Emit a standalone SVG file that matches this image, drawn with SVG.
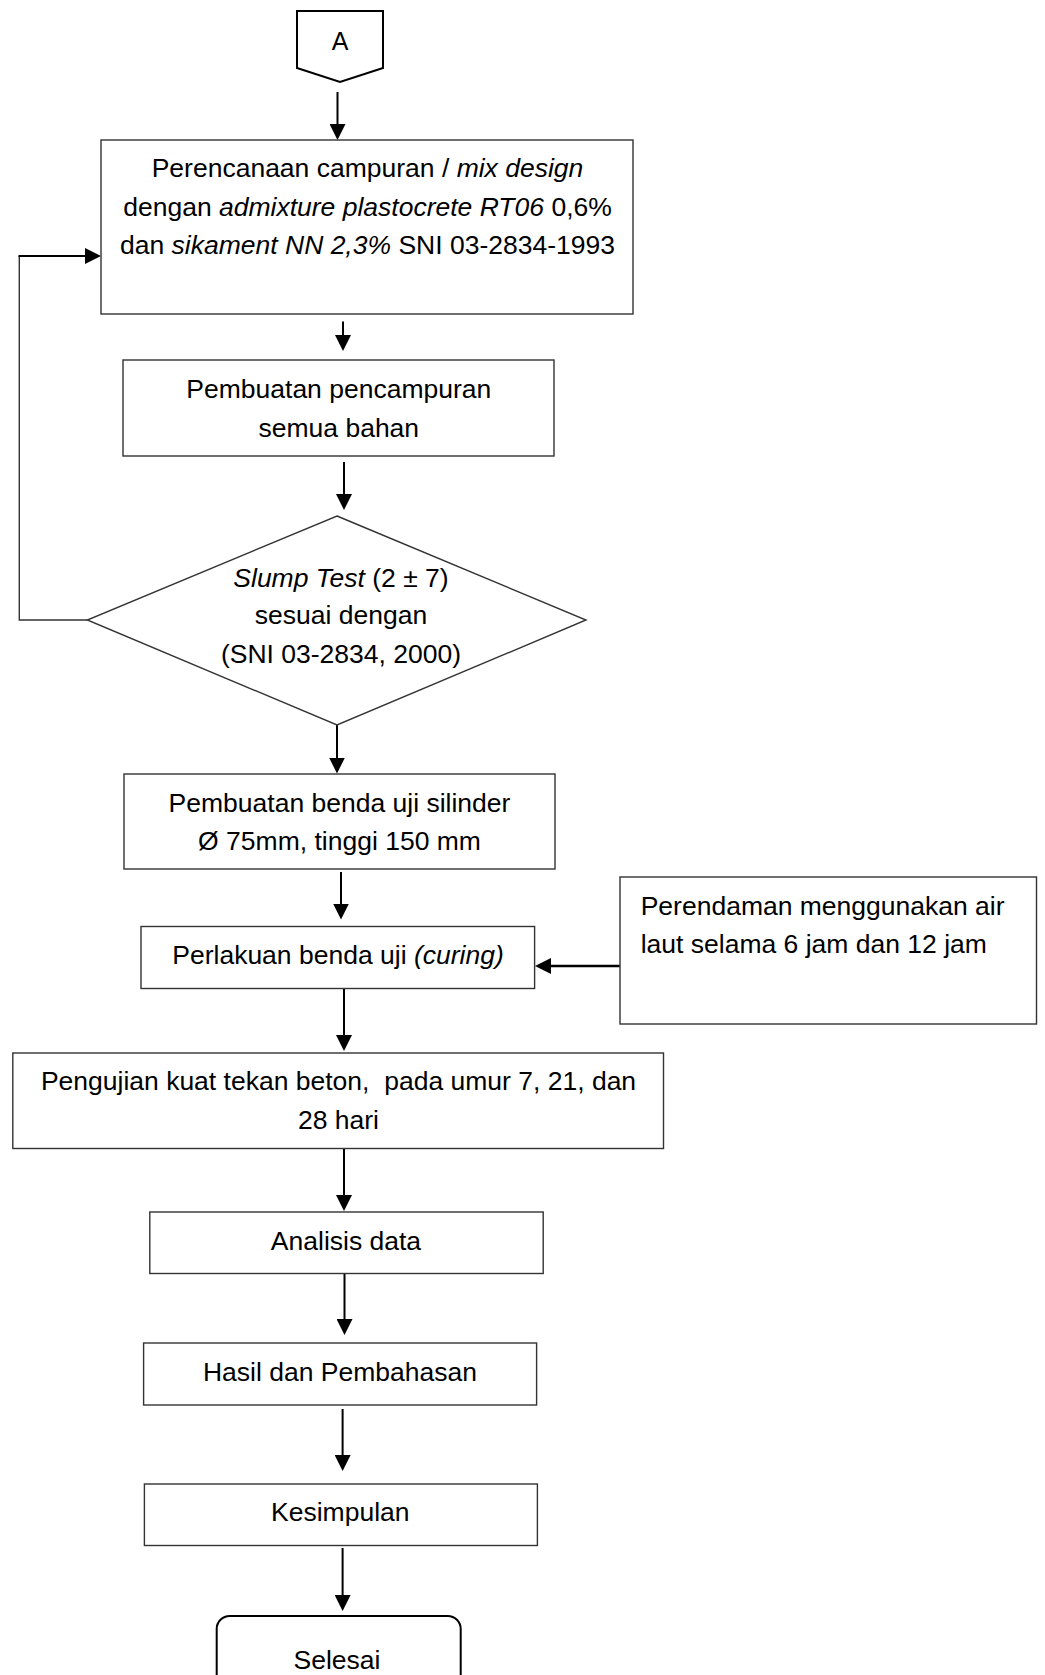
<svg xmlns="http://www.w3.org/2000/svg" width="1045" height="1675" viewBox="0 0 1045 1675">
<style>
.bx{fill:#fff;stroke:#333;stroke-width:1.4}
.t{font-family:"Liberation Sans",Arial,sans-serif;font-size:26.5px;fill:#000}
.c{text-anchor:middle}
.i{font-style:italic}
.ar{fill:none;stroke:#000;stroke-width:2}
.thin{fill:none;stroke:#333;stroke-width:1.4}
</style>
<defs>
<marker id="ah" viewBox="0 0 16 16" refX="8" refY="8" markerWidth="16" markerHeight="16" markerUnits="userSpaceOnUse" orient="auto">
<path d="M0,0 L16,8 L0,16 z" fill="#000"/>
</marker>
</defs>
<rect width="1045" height="1675" fill="#fff"/>
<g id="connectors">
<path class="ar" d="M337.5,92 V132" marker-end="url(#ah)"/>
<path class="ar" d="M343,321.5 V343" marker-end="url(#ah)"/>
<path class="ar" d="M344,462 V502" marker-end="url(#ah)"/>
<path class="ar" d="M337,725 V765.5" marker-end="url(#ah)"/>
<path class="ar" d="M341,872 V911.5" marker-end="url(#ah)"/>
<path class="ar" style="stroke-width:2.5" d="M620,966 H543" marker-end="url(#ah)"/>
<path class="ar" d="M344,989 V1043" marker-end="url(#ah)"/>
<path class="ar" d="M344,1149 V1203" marker-end="url(#ah)"/>
<path class="ar" d="M344.5,1273.5 V1327" marker-end="url(#ah)"/>
<path class="ar" d="M342.6,1409 V1463" marker-end="url(#ah)"/>
<path class="ar" d="M342.6,1548 V1603" marker-end="url(#ah)"/>
<path class="thin" d="M87.3,620 H19.3 V256"/>
<path class="ar" d="M18.5,256 H93" marker-end="url(#ah)"/>
</g>
<g id="node-a">
<polygon points="297,11 383,11 383,68 340,82 297,68" fill="#fff" stroke="#000" stroke-width="2"/>
<text class="t c" x="340" y="50" style="font-size:25px">A</text>
</g>
<g id="node-mix-design">
<rect class="bx" x="101" y="140" width="532" height="174"/>
<text class="t c" x="367.5" y="177">Perencanaan campuran / <tspan class="i">mix design</tspan></text>
<text class="t c" x="367.5" y="215.5">dengan <tspan class="i">admixture plastocrete RT06</tspan> 0,6%</text>
<text class="t c" x="367.5" y="254">dan <tspan class="i">sikament NN 2,3%</tspan> SNI 03-2834-1993</text>
</g>
<g id="node-pencampuran">
<rect class="bx" x="123" y="360" width="431" height="96"/>
<text class="t c" x="338.8" y="398">Pembuatan pencampuran</text>
<text class="t c" x="338.8" y="436.5">semua bahan</text>
</g>
<g id="node-slump">
<polygon class="bx" points="337,516 586,620 337,725 87.3,620"/>
<text class="t c" x="341" y="587"><tspan class="i">Slump Test</tspan> (2 ± 7)</text>
<text class="t c" x="341" y="624">sesuai dengan</text>
<text class="t c" x="341" y="663">(SNI 03-2834, 2000)</text>
</g>
<g id="node-benda-uji">
<rect class="bx" x="124" y="774" width="431" height="95"/>
<text class="t c" x="339.5" y="811.5">Pembuatan benda uji silinder</text>
<text class="t c" x="339.5" y="850">Ø 75mm, tinggi 150 mm</text>
</g>
<g id="node-curing">
<rect class="bx" x="141" y="926.5" width="393.6" height="62"/>
<text class="t c" x="338" y="963.5">Perlakuan benda uji <tspan class="i">(curing)</tspan></text>
</g>
<g id="node-perendaman">
<rect class="bx" x="620" y="877" width="416.5" height="147"/>
<text class="t" x="640.7" y="915">Perendaman menggunakan air</text>
<text class="t" x="640.7" y="953">laut selama 6 jam dan 12 jam</text>
</g>
<g id="node-pengujian">
<rect class="bx" x="12.8" y="1053" width="650.7" height="95.5"/>
<text class="t c" x="338.5" y="1090" xml:space="preserve">Pengujian kuat tekan beton,  pada umur 7, 21, dan</text>
<text class="t c" x="338.5" y="1128.5">28 hari</text>
</g>
<g id="node-analisis">
<rect class="bx" x="149.8" y="1212" width="393.4" height="61.5"/>
<text class="t c" x="346" y="1250">Analisis data</text>
</g>
<g id="node-hasil">
<rect class="bx" x="143.6" y="1343" width="393" height="62"/>
<text class="t c" x="340" y="1380.7">Hasil dan Pembahasan</text>
</g>
<g id="node-kesimpulan">
<rect class="bx" x="144.4" y="1484" width="393" height="61.5"/>
<text class="t c" x="340.3" y="1520.7">Kesimpulan</text>
</g>
<g id="node-selesai">
<rect x="216.7" y="1616" width="244" height="110" rx="13" ry="13" fill="#fff" stroke="#000" stroke-width="2"/>
<text class="t c" x="337" y="1669">Selesai</text>
</g>
</svg>
